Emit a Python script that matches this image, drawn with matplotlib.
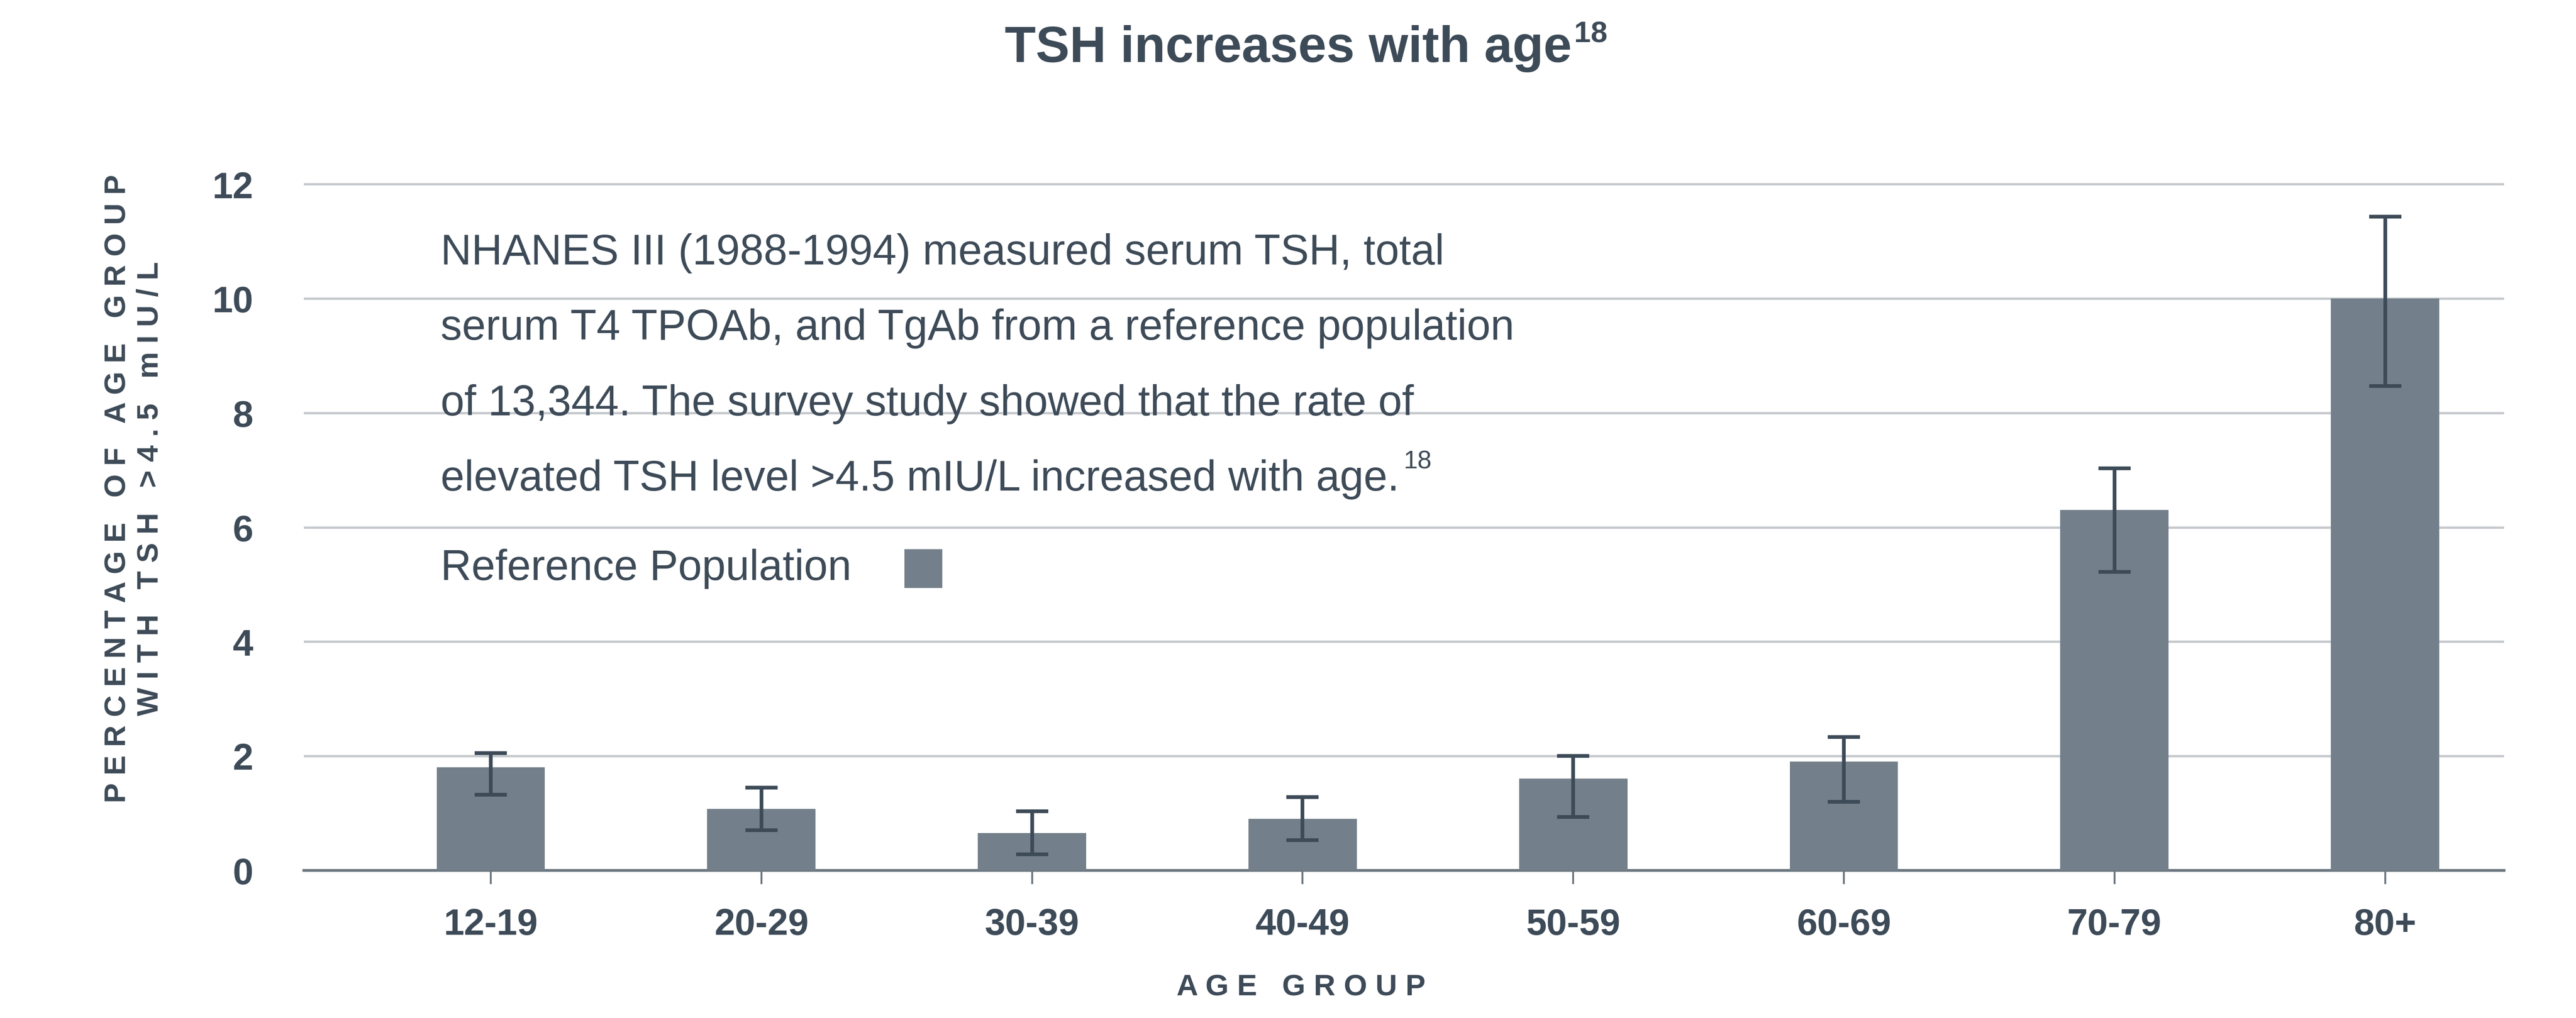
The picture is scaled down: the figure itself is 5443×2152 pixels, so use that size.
import matplotlib.pyplot as plt
from matplotlib.patches import Rectangle

ages = ['12-19', '20-29', '30-39', '40-49', '50-59', '60-69', '70-79', '80+']
pct = [1.8, 1.07, 0.65, 0.9, 1.6, 1.9, 6.3, 10.0]
err_low = [1.32, 0.7, 0.28, 0.53, 0.93, 1.2, 5.22, 8.47]
err_high = [2.05, 1.45, 1.03, 1.28, 2.0, 2.33, 7.03, 11.43]

txt = '#3d4a57'
bar_c = '#737f8a'
plt.rcParams['font.family'] = 'Liberation Sans'

fig = plt.figure(figsize=(15.5, 6.13), dpi=351.2)
ax = fig.add_axes([0.118, 0.145, 0.854, 0.685])

x = list(range(len(ages)))
lo = [p - l for p, l in zip(pct, err_low)]
hi = [h - p for p, h in zip(pct, err_high)]
ax.bar(x, pct, width=0.4, color=bar_c, zorder=3)
ax.errorbar(x, pct, yerr=[lo, hi], fmt='none', ecolor=txt, elinewidth=1.6,
            capsize=7, capthick=1.6, zorder=4)

ax.set_xlim(-0.69, 7.44)
ax.set_ylim(0, 12.2)
ax.set_yticks(range(0, 13, 2))
ax.set_xticks(x)
ax.set_xticklabels(ages)
ax.grid(axis='y', color='#c5c9cd', linewidth=1, zorder=0)
for s in ['top', 'right', 'left']:
    ax.spines[s].set_visible(False)
ax.spines['bottom'].set_color('#6b7680')
ax.spines['bottom'].set_linewidth(1.2)
ax.tick_params(axis='y', length=0, labelsize=16, labelcolor=txt, pad=22)
ax.tick_params(axis='x', length=6, color='#6b7680', labelsize=16, labelcolor=txt, pad=10)
for lab in ax.get_xticklabels() + ax.get_yticklabels():
    lab.set_fontweight('semibold')

# white panel behind the note
ax.add_patch(Rectangle((0.047, 0.36), 0.545, 0.62, transform=ax.transAxes,
                       facecolor='white', edgecolor='none', zorder=1))
lines = ['NHANES III (1988-1994) measured serum TSH, total',
         'serum T4 TPOAb, and TgAb from a reference population',
         'of 13,344. The survey study showed that the rate of',
         'elevated TSH level >4.5 mIU/L increased with age.']
for i, line in enumerate(lines):
    t = ax.text(0.062, 0.885 - i * 0.108, line, transform=ax.transAxes, fontsize=18.5,
                color=txt, va='center', ha='left', zorder=2)
fig.canvas.draw()
bb = t.get_window_extent().transformed(ax.transAxes.inverted())
ax.text(bb.x1 + 0.002, 0.885 - 3 * 0.108 + 0.025, '18', transform=ax.transAxes,
        fontsize=11, color=txt, va='center', ha='left', zorder=2)

ax.text(0.062, 0.433, 'Reference Population', transform=ax.transAxes,
        fontsize=18.5, color=txt, va='center', ha='left', zorder=2)
ax.add_patch(Rectangle((0.273, 0.405), 0.017, 0.055, transform=ax.transAxes,
                       facecolor=bar_c, edgecolor='none', zorder=2))

tt = fig.text(0.5, 0.952, 'TSH increases with age', ha='center', va='center',
              fontsize=22, fontweight='bold', color=txt)
fig.canvas.draw()
tb = tt.get_window_extent().transformed(fig.transFigure.inverted())
fig.text(tb.x1 + 0.001, 0.966, '18', ha='left', va='center',
         fontsize=13, fontweight='bold', color=txt)
fig.text(0.505, 0.03, 'A G E   G R O U P', ha='center', va='center',
         fontsize=13, fontweight='bold', color=txt)
fig.text(0.052, 0.52, 'P E R C E N T A G E   O F   A G E   G R O U P\n'
         'W I T H   T S H   > 4 . 5   m I U / L', ha='center', va='center',
         rotation=90, fontsize=13, fontweight='bold', color=txt, linespacing=1.2)

plt.savefig('out.png', dpi=351.2)
